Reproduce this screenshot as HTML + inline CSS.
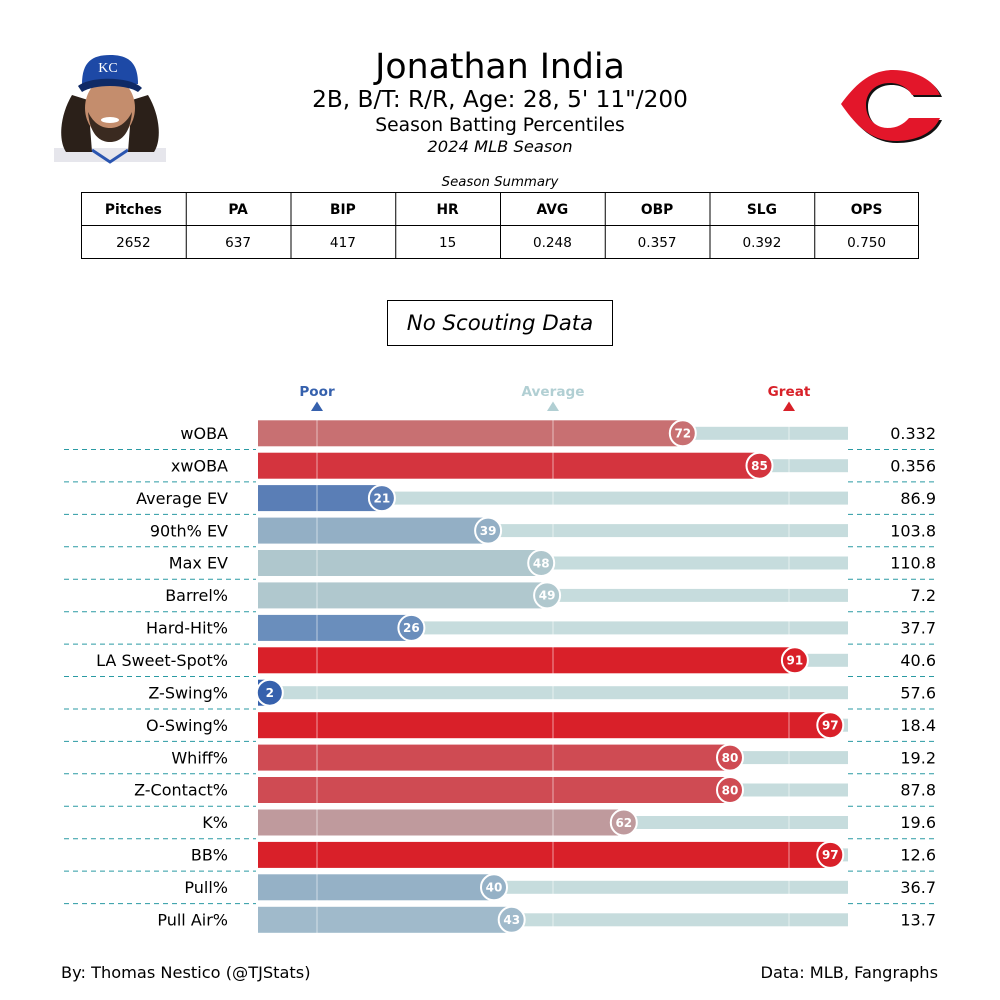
<!DOCTYPE html>
<html><head><meta charset="utf-8"><style>
html,body{margin:0;padding:0;background:#fff;}
svg{display:block;font-family:"DejaVu Sans","Liberation Sans",sans-serif;}
</style></head><body>
<svg width="1000" height="1000" viewBox="0 0 1000 1000" xmlns="http://www.w3.org/2000/svg">
<rect width="1000" height="1000" fill="#fff"/>
<!-- player photo -->
<g>
<rect x="54" y="148" width="112" height="14" fill="#e6e6ec"/>
<path d="M92,150 L110,162 L128,150" fill="none" stroke="#2a55b0" stroke-width="3"/>
<path d="M72,95 C60,115 58,140 66,152 L92,152 L88,100 Z" fill="#2b2019"/>
<path d="M148,95 C160,115 162,140 154,152 L128,152 L132,100 Z" fill="#2b2019"/>
<ellipse cx="110" cy="108" rx="25" ry="30" fill="#c48d6d"/>
<path d="M88,112 C90,135 100,142 110,142 C120,142 130,135 132,112 C126,124 118,128 110,128 C102,128 94,124 88,112 Z" fill="#3a2a20"/>
<ellipse cx="110" cy="120" rx="9" ry="3" fill="#fff"/>
<path d="M82,84 C82,62 92,55 110,55 C128,55 138,62 138,84 Z" fill="#1d49a6"/>
<path d="M78,86 C90,76 130,76 142,88 L138,92 C126,84 94,84 82,92 Z" fill="#0f2a66"/>
<text x="108" y="72" font-size="14" fill="#fff" text-anchor="middle" font-family="Liberation Serif, serif">KC</text>
</g>
<!-- Reds logo -->
<g>
<path transform="translate(2,2)" d="M940,95 C934,80 915,70 893,70 C870,70 855,85 841,104 C855,124 870,141 895,141 C918,141 934,132 940,118 L909,118 C903,125 896,128 888,128 C875,128 866,118 866,105 C866,92 876,83 890,83 C900,83 908,88 912,95 Z" fill="#111"/>
<path d="M940,95 C934,80 915,70 893,70 C870,70 855,85 841,104 C855,124 870,141 895,141 C918,141 934,132 940,118 L909,118 C903,125 896,128 888,128 C875,128 866,118 866,105 C866,92 876,83 890,83 C900,83 908,88 912,95 Z" fill="#e3162a"/>
</g>
<!-- titles -->
<text x="500" y="78" font-size="34.7" text-anchor="middle">Jonathan India</text>
<text x="500" y="107" font-size="23.2" text-anchor="middle">2B, B/T: R/R, Age: 28, 5' 11"/200</text>
<text x="500" y="131" font-size="18.7" text-anchor="middle">Season Batting Percentiles</text>
<text x="500" y="152" font-size="16.3" font-style="italic" text-anchor="middle">2024 MLB Season</text>
<text x="500" y="186" font-size="13.3" font-style="italic" text-anchor="middle">Season Summary</text>
<!-- table -->
<g stroke="#000" stroke-width="1" fill="none">
<rect x="81.5" y="192.5" width="837" height="66"/>
<line x1="81.5" y1="225.5" x2="918.5" y2="225.5"/>
<line x1="186.25" y1="192.5" x2="186.25" y2="258.5"/>
<line x1="291" y1="192.5" x2="291" y2="258.5"/>
<line x1="395.75" y1="192.5" x2="395.75" y2="258.5"/>
<line x1="500.5" y1="192.5" x2="500.5" y2="258.5"/>
<line x1="605.25" y1="192.5" x2="605.25" y2="258.5"/>
<line x1="710" y1="192.5" x2="710" y2="258.5"/>
<line x1="814.75" y1="192.5" x2="814.75" y2="258.5"/>
</g>
<g font-size="13.8" text-anchor="middle" font-weight="bold">
<text x="133.4" y="214">Pitches</text><text x="238.1" y="214">PA</text><text x="342.9" y="214">BIP</text><text x="447.6" y="214">HR</text><text x="552.4" y="214">AVG</text><text x="657.1" y="214">OBP</text><text x="761.9" y="214">SLG</text><text x="866.6" y="214">OPS</text>
</g>
<g font-size="13.6" text-anchor="middle">
<text x="133.4" y="247">2652</text><text x="238.1" y="247">637</text><text x="342.9" y="247">417</text><text x="447.6" y="247">15</text><text x="552.4" y="247">0.248</text><text x="657.1" y="247">0.357</text><text x="761.9" y="247">0.392</text><text x="866.6" y="247">0.750</text>
</g>
<!-- No scouting -->
<rect x="387.5" y="300.5" width="225" height="45" fill="#fff" stroke="#000" stroke-width="1"/>
<text x="500" y="330" font-size="21.3" font-style="italic" text-anchor="middle">No Scouting Data</text>
<!-- Poor/Average/Great -->
<g font-size="13.6" font-weight="bold" text-anchor="middle">
<text x="317" y="396" fill="#3661ad">Poor</text>
<text x="553" y="396" fill="#b1cfd3">Average</text>
<text x="789" y="396" fill="#d82129">Great</text>
</g>
<polygon points="317,401.5 323,411 311,411" fill="#3661ad"/>
<polygon points="553,401.5 559,411 547,411" fill="#b1cfd3"/>
<polygon points="789,401.5 795,411 783,411" fill="#d82129"/>
<!-- tracks -->
<g fill="#c6dcdd">
<rect x="258" y="426.8" width="590" height="13"/>
<rect x="258" y="459.2" width="590" height="13"/>
<rect x="258" y="491.6" width="590" height="13"/>
<rect x="258" y="524.1" width="590" height="13"/>
<rect x="258" y="556.5" width="590" height="13"/>
<rect x="258" y="588.9" width="590" height="13"/>
<rect x="258" y="621.4" width="590" height="13"/>
<rect x="258" y="653.8" width="590" height="13"/>
<rect x="258" y="686.2" width="590" height="13"/>
<rect x="258" y="718.7" width="590" height="13"/>
<rect x="258" y="751.1" width="590" height="13"/>
<rect x="258" y="783.5" width="590" height="13"/>
<rect x="258" y="816.0" width="590" height="13"/>
<rect x="258" y="848.4" width="590" height="13"/>
<rect x="258" y="880.8" width="590" height="13"/>
<rect x="258" y="913.3" width="590" height="13"/>
</g>
<!-- bars -->
<rect x="258" y="420.3" width="424.8" height="26" fill="#c87072"/>
<rect x="258" y="452.7" width="501.5" height="26" fill="#d4343e"/>
<rect x="258" y="485.1" width="123.9" height="26" fill="#5a7eb6"/>
<rect x="258" y="517.6" width="230.1" height="26" fill="#93afc5"/>
<rect x="258" y="550.0" width="283.2" height="26" fill="#afc7cd"/>
<rect x="258" y="582.4" width="289.1" height="26" fill="#b0c8ce"/>
<rect x="258" y="614.9" width="153.4" height="26" fill="#6a8ebc"/>
<rect x="258" y="647.3" width="536.9" height="26" fill="#d92029"/>
<rect x="258" y="679.7" width="11.8" height="26" fill="#3661ad"/>
<rect x="258" y="712.2" width="572.3" height="26" fill="#d92029"/>
<rect x="258" y="744.6" width="472" height="26" fill="#cf4b53"/>
<rect x="258" y="777.0" width="472" height="26" fill="#cf4b53"/>
<rect x="258" y="809.5" width="365.8" height="26" fill="#bf9a9d"/>
<rect x="258" y="841.9" width="572.3" height="26" fill="#d92029"/>
<rect x="258" y="874.3" width="236" height="26" fill="#95b1c6"/>
<rect x="258" y="906.8" width="253.7" height="26" fill="#a0bacb"/>
<!-- reference lines -->
<g stroke="#ffffff" stroke-opacity="0.55" stroke-width="1">
<line x1="317" y1="419" x2="317" y2="933"/>
<line x1="553" y1="419" x2="553" y2="933"/>
<line x1="789" y1="419" x2="789" y2="933"/>
</g>
<!-- circles -->
<g stroke="#fff" stroke-width="2">
<circle cx="682.8" cy="433.3" r="13" fill="#c87072"/>
<circle cx="759.5" cy="465.7" r="13" fill="#d4343e"/>
<circle cx="381.9" cy="498.1" r="13" fill="#5a7eb6"/>
<circle cx="488.1" cy="530.6" r="13" fill="#93afc5"/>
<circle cx="541.2" cy="563.0" r="13" fill="#afc7cd"/>
<circle cx="547.1" cy="595.4" r="13" fill="#b0c8ce"/>
<circle cx="411.4" cy="627.9" r="13" fill="#6a8ebc"/>
<circle cx="794.9" cy="660.3" r="13" fill="#d92029"/>
<circle cx="269.8" cy="692.7" r="13" fill="#3661ad"/>
<circle cx="830.3" cy="725.2" r="13" fill="#d92029"/>
<circle cx="730" cy="757.6" r="13" fill="#cf4b53"/>
<circle cx="730" cy="790.0" r="13" fill="#cf4b53"/>
<circle cx="623.8" cy="822.5" r="13" fill="#bf9a9d"/>
<circle cx="830.3" cy="854.9" r="13" fill="#d92029"/>
<circle cx="494" cy="887.3" r="13" fill="#95b1c6"/>
<circle cx="511.7" cy="919.8" r="13" fill="#a0bacb"/>
</g>
<g font-size="12" font-weight="bold" fill="#fff" text-anchor="middle">
<text x="682.8" y="437.6">72</text>
<text x="759.5" y="470">85</text>
<text x="381.9" y="502.4">21</text>
<text x="488.1" y="534.9">39</text>
<text x="541.2" y="567.3">48</text>
<text x="547.1" y="599.7">49</text>
<text x="411.4" y="632.2">26</text>
<text x="794.9" y="664.6">91</text>
<text x="269.8" y="697">2</text>
<text x="830.3" y="729.5">97</text>
<text x="730" y="761.9">80</text>
<text x="730" y="794.3">80</text>
<text x="623.8" y="826.8">62</text>
<text x="830.3" y="859.2">97</text>
<text x="494" y="891.6">40</text>
<text x="511.7" y="924.1">43</text>
</g>
<!-- labels -->
<g font-size="16" text-anchor="end">
<text x="228" y="439">wOBA</text>
<text x="228" y="471.4">xwOBA</text>
<text x="228" y="503.8">Average EV</text>
<text x="228" y="536.3">90th% EV</text>
<text x="228" y="568.7">Max EV</text>
<text x="228" y="601.1">Barrel%</text>
<text x="228" y="633.6">Hard-Hit%</text>
<text x="228" y="666">LA Sweet-Spot%</text>
<text x="228" y="698.4">Z-Swing%</text>
<text x="228" y="730.9">O-Swing%</text>
<text x="228" y="763.3">Whiff%</text>
<text x="228" y="795.7">Z-Contact%</text>
<text x="228" y="828.2">K%</text>
<text x="228" y="860.6">BB%</text>
<text x="228" y="893">Pull%</text>
<text x="228" y="925.5">Pull Air%</text>
</g>
<g font-size="16" text-anchor="end">
<text x="936" y="439">0.332</text>
<text x="936" y="471.4">0.356</text>
<text x="936" y="503.8">86.9</text>
<text x="936" y="536.3">103.8</text>
<text x="936" y="568.7">110.8</text>
<text x="936" y="601.1">7.2</text>
<text x="936" y="633.6">37.7</text>
<text x="936" y="666">40.6</text>
<text x="936" y="698.4">57.6</text>
<text x="936" y="730.9">18.4</text>
<text x="936" y="763.3">19.2</text>
<text x="936" y="795.7">87.8</text>
<text x="936" y="828.2">19.6</text>
<text x="936" y="860.6">12.6</text>
<text x="936" y="893">36.7</text>
<text x="936" y="925.5">13.7</text>
</g>
<!-- dashed separators -->
<g stroke="#2a9aa3" stroke-width="1" stroke-dasharray="5,4">
<path d="M64,449.5H256M848,449.5H936"/>
<path d="M64,481.9H256M848,481.9H936"/>
<path d="M64,514.4H256M848,514.4H936"/>
<path d="M64,546.8H256M848,546.8H936"/>
<path d="M64,579.2H256M848,579.2H936"/>
<path d="M64,611.7H256M848,611.7H936"/>
<path d="M64,644.1H256M848,644.1H936"/>
<path d="M64,676.5H256M848,676.5H936"/>
<path d="M64,709H256M848,709H936"/>
<path d="M64,741.4H256M848,741.4H936"/>
<path d="M64,773.8H256M848,773.8H936"/>
<path d="M64,806.3H256M848,806.3H936"/>
<path d="M64,838.7H256M848,838.7H936"/>
<path d="M64,871.1H256M848,871.1H936"/>
<path d="M64,903.6H256M848,903.6H936"/>
</g>
<!-- footer -->
<text x="61" y="978" font-size="16.2">By: Thomas Nestico (@TJStats)</text>
<text x="938" y="978" font-size="16.2" text-anchor="end">Data: MLB, Fangraphs</text>
</svg>
</body></html>
